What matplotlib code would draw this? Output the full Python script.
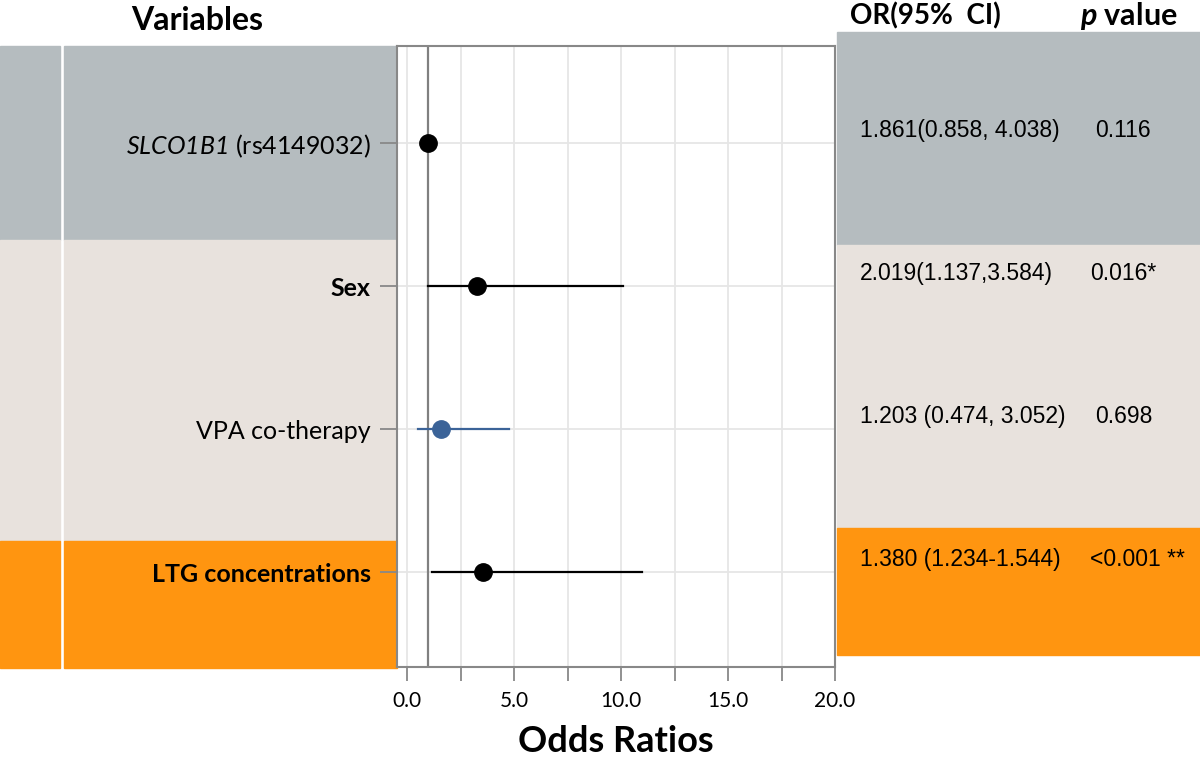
import matplotlib
matplotlib.use("Agg")
import numpy as np
import matplotlib.pyplot as plt
from matplotlib.patches import Rectangle
from matplotlib.transforms import blended_transform_factory

plt.rcParams['font.family'] = ['Lato', 'DejaVu Sans']
plt.rcParams['mathtext.fontset'] = 'custom'
plt.rcParams['mathtext.rm'] = 'Lato:italic'
plt.rcParams['mathtext.it'] = 'Lato:italic'
plt.rcParams['mathtext.bf'] = 'Lato:bold'
plt.rcParams['mathtext.bfit'] = 'Lato:bold:italic'

####### data

variables = [r'$SLCO1B1$ (rs4149032)', 'Sex', 'VPA co-therapy', 'LTG concentrations']
bold_label = [False, True, False, True]
rows = [4, 3, 2, 1]
odds = [1.0, 3.26, 1.58, 3.57]
ci_low = [np.nan, 1.0, 0.51, 1.16]
ci_high = [np.nan, 10.07, 4.77, 11.0]
point_colors = ['black', 'black', '#3b6398', 'black']
or_text = ['1.861(0.858, 4.038)', '2.019(1.137,3.584)', '1.203 (0.474, 3.052)', '1.380 (1.234-1.544)']
p_text = ['0.116', '0.016*', '0.698', '<0.001 **']

# colour bands (top, bottom in row units)
gray = '#b5bcbf'
beige = '#e8e2dd'
orange = '#ff9510'
left_bands = [(4.68, 3.32, gray), (3.32, 1.22, beige), (1.22, 0.33, orange)]
right_bands = [(4.78, 3.29, gray), (3.29, 1.31, beige), (1.31, 0.42, orange)]

W, H = 1200, 759
fig = plt.figure(figsize=(12, 7.59), dpi=100)
ax = fig.add_axes([397/W, 1-667/H, (835-397)/W, (667-46)/H])
ax.set_zorder(2)
ax.set_xlim(-0.47, 20)
ax.set_ylim(0.336, 4.68)

tr = blended_transform_factory(fig.transFigure, ax.transData)

############ background bands
for top, bot, c in left_bands:
    fig.patches.append(Rectangle((0, bot), 60/W, top-bot, transform=tr, color=c, zorder=0))
    fig.patches.append(Rectangle((64/W, bot), (397-64)/W, top-bot, transform=tr, color=c, zorder=0))
for top, bot, c in right_bands:
    fig.patches.append(Rectangle((837/W, bot), (W-837)/W, top-bot, transform=tr, color=c, zorder=0))

############ forest plot
ax.set_xticks(np.arange(0, 20.1, 2.5))
ax.set_xticklabels(['0.0', '', '5.0', '', '10.0', '', '15.0', '', '20.0'], fontsize=15)
ax.set_yticks(rows)
ax.set_yticklabels(variables, fontsize=18)
for lab, b in zip(ax.get_yticklabels(), bold_label):
    if b:
        lab.set_fontweight('bold')
ax.grid(True, color='#e6e6e6', lw=1.3, zorder=0)
ax.set_axisbelow(True)
ax.tick_params(axis='y', length=12, width=1.3, color='#888888', pad=7)
ax.tick_params(axis='x', length=10, width=1.3, color='#888888', pad=7)
for s in ax.spines.values():
    s.set_color('#888888')
    s.set_linewidth(1.5)

ax.axvline(1.0, color='#808080', lw=1.6, zorder=2)

for y, o, lo, hi, c in zip(rows, odds, ci_low, ci_high, point_colors):
    if not np.isnan(lo):
        ax.plot([lo, hi], [y, y], color=c, lw=1.6, zorder=3)
    ax.plot(o, y, 'o', color=c, ms=12.5, zorder=4)

ax.set_xlabel('Odds Ratios', fontsize=26, fontweight='bold', labelpad=10)

############ headers and the table on the right
fig.text(197/W, 1-21/H, 'Variables', fontsize=23, fontweight='bold', ha='center', va='center')
fig.text(925/W, 1-16/H, 'OR(95%  CI)', fontsize=20, fontweight='bold', ha='center', va='center')
fig.text(1129/W, 1-16/H, r'$\mathbfit{p}$ value', fontsize=22, fontweight='bold', ha='center', va='center')

for y, t1, t2 in zip(rows, or_text, p_text):
    ax.text(860/W, y+0.09, t1, transform=tr, fontsize=16.5, family='Liberation Sans', va='center', ha='left')
    xp = 1095 if t2 in ('0.116', '0.698') else 1090
    ax.text(xp/W, y+0.09, t2, transform=tr, fontsize=16.5, family='Liberation Sans', va='center', ha='left')

fig.savefig('out.png', dpi=100)
